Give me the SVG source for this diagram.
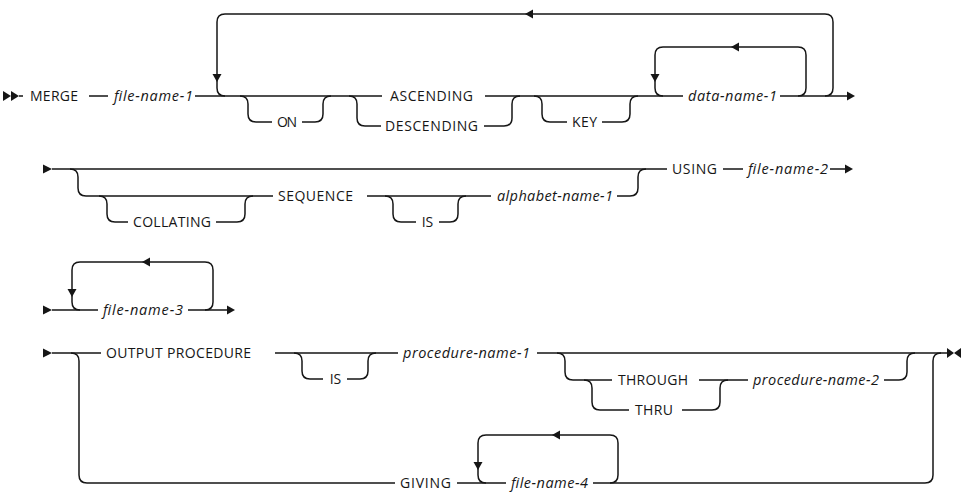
<svg xmlns="http://www.w3.org/2000/svg" width="967" height="499" viewBox="0 0 967 499">
<style>
.ln{fill:none;stroke:#161616;stroke-width:1.5}
.ah{fill:#161616;stroke:none}
.k{font-family:"Open Sans","Noto Sans","Liberation Sans",sans-serif;font-size:14px;fill:#161616}
.v{font-family:"Open Sans","Noto Sans","Liberation Sans",sans-serif;font-size:14.5px;font-style:italic;fill:#161616}
</style>
<rect width="967" height="499" fill="#ffffff"/>
<g id="connectors">
<polygon class="ah" points="3,91 11,96 3,101"/>
<polygon class="ah" points="11,91 19,96 11,101"/>
<path class="ln" d="M19 96H23M89 96H108M195 96H382M485 96H683M780 96H848"/>
<polygon class="ah" points="847,91.5 855,96 847,100.5"/>
<path class="ln" d="M825 96Q833 96 833 88V22Q833 14 825 14H225Q217 14 217 22V88Q217 96 225 96"/>
<polygon class="ah" points="212.5,74 221.5,74 217,82"/>
<polygon class="ah" points="525,14 533,9.5 533,18.5"/>
<path class="ln" d="M798 96Q806 96 806 88V55Q806 47 798 47H663Q655 47 655 55V88Q655 96 663 96"/>
<polygon class="ah" points="650.5,74 659.5,74 655,82"/>
<polygon class="ah" points="731,47 739,42.5 739,51.5"/>
<path class="ln" d="M240 96Q248 96 248 104V114Q248 122 256 122H272M302 122H315Q323 122 323 114V104Q323 96 331 96"/>
<path class="ln" d="M349 96Q357 96 357 104V118Q357 126 365 126H381M484 126H504Q512 126 512 118V104Q512 96 520 96"/>
<path class="ln" d="M534 96Q542 96 542 104V114Q542 122 550 122H567M602 122H622Q630 122 630 114V104Q630 96 638 96"/>
<polygon class="ah" points="43,164.5 52,169 43,173.5"/>
<path class="ln" d="M52 169H667M723 169H743M830 169H846"/>
<polygon class="ah" points="845,164.5 853,169 845,173.5"/>
<path class="ln" d="M70 169Q78 169 78 177V188Q78 196 86 196H273M367 196H491"/>
<path class="ln" d="M99 196Q107 196 107 204V214Q107 222 115 222H128M216 222H237Q245 222 245 214V204Q245 196 253 196"/>
<path class="ln" d="M385 196Q393 196 393 204V214Q393 222 401 222H416M439 222H450Q458 222 458 214V204Q458 196 466 196"/>
<path class="ln" d="M617 196H630Q638 196 638 188V177Q638 169 646 169"/>
<polygon class="ah" points="43,305.5 52,310 43,314.5"/>
<path class="ln" d="M52 310H98M188 310H228"/>
<polygon class="ah" points="227,305.5 235,310 227,314.5"/>
<path class="ln" d="M205 310Q213 310 213 302V270Q213 262 205 262H80Q72 262 72 270V302Q72 310 80 310"/>
<polygon class="ah" points="67.5,289 76.5,289 72,297"/>
<polygon class="ah" points="142,262 150,257.5 150,266.5"/>
<polygon class="ah" points="43,348.5 52,353 43,357.5"/>
<path class="ln" d="M52 353H101M275 353H398M537 353H947"/>
<polygon class="ah" points="947,348 954,353 947,358"/>
<polygon class="ah" points="961,348 954,353 961,358"/>
<path class="ln" d="M71 353Q79 353 79 361V475Q79 483 87 483H395M457 483H506M593 483H925Q933 483 933 475V361Q933 353 941 353"/>
<path class="ln" d="M294 353Q302 353 302 361V371Q302 379 310 379H323M347 379H360Q368 379 368 371V361Q368 353 376 353"/>
<path class="ln" d="M557 353Q565 353 565 361V372Q565 380 573 380H612M699 380H748M884 380H899Q907 380 907 372V361Q907 353 915 353"/>
<path class="ln" d="M584 380Q592 380 592 388V402Q592 410 600 410H629M682 410H712Q720 410 720 402V388Q720 380 728 380"/>
<path class="ln" d="M610 483Q618 483 618 475V443Q618 435 610 435H486Q478 435 478 443V475Q478 483 486 483"/>
<polygon class="ah" points="473.5,462 482.5,462 478,470"/>
<polygon class="ah" points="552,435 560,430.5 560,439.5"/>
</g>
<g id="n-merge"><text class="k" x="30" y="101" textLength="48">MERGE</text></g>
<g id="n-file-name-1"><text class="v" x="114" y="101" textLength="79">file-name-1</text></g>
<g id="n-on"><text class="k" x="277" y="127" textLength="20">ON</text></g>
<g id="n-ascending"><text class="k" x="390" y="101" textLength="83">ASCENDING</text></g>
<g id="n-descending"><text class="k" x="385" y="131" textLength="93">DESCENDING</text></g>
<g id="n-key"><text class="k" x="572" y="127" textLength="25">KEY</text></g>
<g id="n-data-name-1"><text class="v" x="688" y="101" textLength="89">data-name-1</text></g>
<g id="n-collating"><text class="k" x="133" y="227" textLength="78">COLLATING</text></g>
<g id="n-sequence"><text class="k" x="278" y="201" textLength="75">SEQUENCE</text></g>
<g id="n-is-1"><text class="k" x="427.5" y="227" text-anchor="middle">IS</text></g>
<g id="n-alphabet-name-1"><text class="v" x="497" y="201" textLength="116">alphabet-name-1</text></g>
<g id="n-using"><text class="k" x="672" y="174" textLength="45">USING</text></g>
<g id="n-file-name-2"><text class="v" x="748" y="174" textLength="80">file-name-2</text></g>
<g id="n-file-name-3"><text class="v" x="103" y="315" textLength="80">file-name-3</text></g>
<g id="n-output-procedure"><text class="k" x="106" y="358" textLength="145">OUTPUT PROCEDURE</text></g>
<g id="n-is-2"><text class="k" x="335.5" y="384" text-anchor="middle">IS</text></g>
<g id="n-procedure-name-1"><text class="v" x="403" y="358" textLength="127">procedure-name-1</text></g>
<g id="n-through"><text class="k" x="618" y="385" textLength="70">THROUGH</text></g>
<g id="n-thru"><text class="k" x="635" y="415" textLength="38">THRU</text></g>
<g id="n-procedure-name-2"><text class="v" x="753" y="385" textLength="126">procedure-name-2</text></g>
<g id="n-giving"><text class="k" x="400" y="488" textLength="51">GIVING</text></g>
<g id="n-file-name-4"><text class="v" x="511" y="488" textLength="77">file-name-4</text></g>
</svg>
